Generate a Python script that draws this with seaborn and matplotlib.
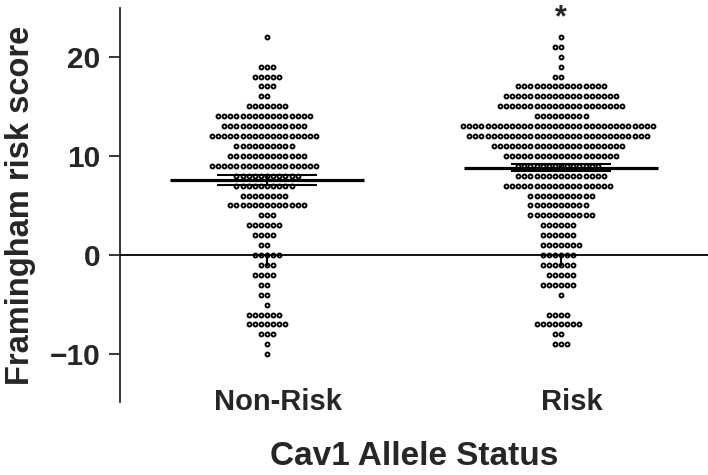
import numpy as np
import pandas as pd
import matplotlib
matplotlib.use("Agg")
import matplotlib.pyplot as plt
import matplotlib.transforms as mtransforms
import seaborn as sns

# --- data: score value -> number of subjects ---
groups = ["Non-Risk", "Risk"]

nonrisk_scores = [22, 19, 18, 17, 16, 15, 14, 13, 12, 11, 10, 9, 8, 7, 6, 5,
                  4, 3, 2, 1, 0, -1, -2, -3, -4, -5, -6, -7, -8, -9, -10]
nonrisk_counts = [1, 3, 5, 3, 2, 7, 16, 14, 18, 10, 13, 18, 11, 10, 8, 13,
                  3, 6, 4, 2, 5, 3, 4, 2, 2, 1, 6, 7, 3, 1, 1]

risk_scores = [22, 21, 20, 19, 18, 17, 16, 15, 14, 13, 12, 11, 10, 9, 8, 7,
               6, 5, 4, 3, 2, 1, 0, -1, -2, -3, -4, -6, -7, -8, -9]
risk_counts = [1, 2, 1, 1, 2, 15, 19, 21, 9, 32, 30, 22, 19, 14, 15, 18,
               11, 10, 11, 6, 6, 7, 6, 6, 5, 6, 1, 4, 8, 2, 3]

yticks = [-10, 0, 10, 20]

df = pd.concat([
    pd.DataFrame({"status": "Non-Risk", "score": np.repeat(nonrisk_scores, nonrisk_counts)}),
    pd.DataFrame({"status": "Risk", "score": np.repeat(risk_scores, risk_counts)}),
], ignore_index=True)

# --- style ---
sns.set_style("ticks")
plt.rcParams["font.family"] = ["Liberation Sans", "DejaVu Sans"]
plt.rcParams["font.weight"] = "bold"

fig = plt.figure(figsize=(7.08, 4.75), dpi=100)
ax = fig.add_axes([0.1695, 0.154, 0.8305, 0.829])

sns.swarmplot(data=df, x="status", y="score", order=groups, color="white",
              edgecolor="black", linewidth=1.35, size=2.85, ax=ax, zorder=2)

# mean +/- SEM
for i, g in enumerate(groups):
    vals = df.loc[df["status"] == g, "score"]
    m = vals.mean()
    sem = vals.std(ddof=1) / np.sqrt(len(vals))
    ax.hlines(m, i - 0.33, i + 0.33, color="black", lw=2.3, zorder=4)
    ax.hlines([m - sem, m + sem], i - 0.17, i + 0.17, color="black", lw=1.5, zorder=4)
    ax.vlines(i, m - sem, m + sem, color="black", lw=1.5, zorder=4)
    # x-axis tick at zero line
    ax.vlines(i, -1.1, 0, color="black", lw=1.5, zorder=4)

ax.axhline(0, color="black", lw=1.3, zorder=3)
ax.text(1, 23.9, "*", ha="center", va="center", fontsize=22, fontweight="bold")

ax.set_xlim(-0.5, 1.5)
ax.set_ylim(-14.8, 24.9)
ax.set_yticks(yticks)
sns.despine(ax=ax, top=True, right=True, bottom=True)
ax.spines["left"].set_linewidth(1.3)

ax.tick_params(axis="y", length=8, width=1.3, pad=6, labelsize=21.5)
ax.tick_params(axis="x", length=0, pad=-10, labelsize=21)
shift = mtransforms.ScaledTranslation(8 / 72, 0, fig.dpi_scale_trans)
for lab in ax.get_xticklabels():
    lab.set_fontweight("bold")
    lab.set_transform(lab.get_transform() + shift)
for lab in ax.get_yticklabels():
    lab.set_fontweight("bold")

ax.set_xlabel("Cav1 Allele Status", fontsize=24, fontweight="bold", labelpad=18)
ax.set_ylabel("Framingham risk score", fontsize=23.5, fontweight="bold", labelpad=10)

fig.savefig("out.png", dpi=100)
